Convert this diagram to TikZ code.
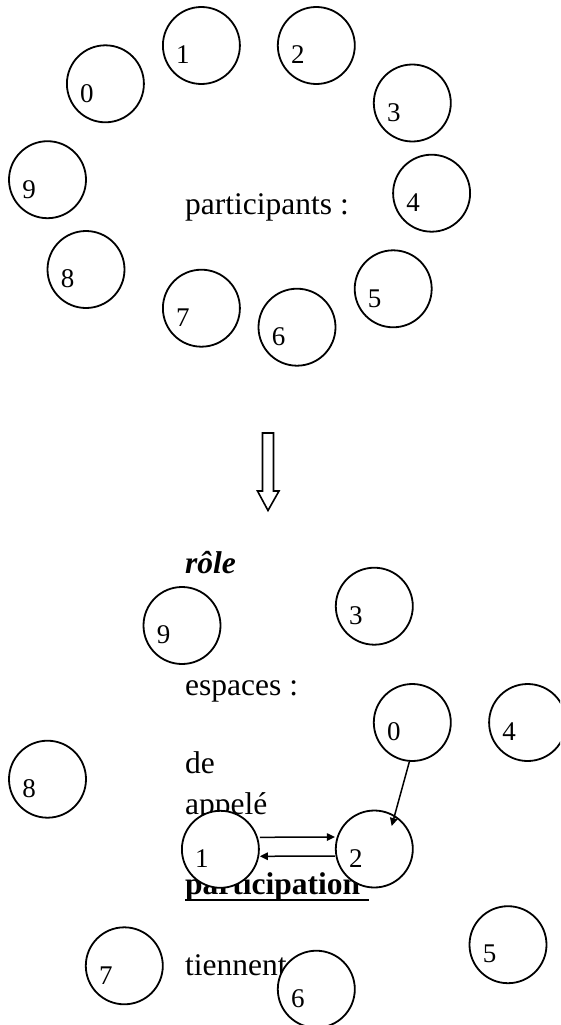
\documentclass[tikz,border=0pt]{standalone}
\usepackage{fontspec}
\setmainfont{Liberation Serif}
\usetikzlibrary{arrows.meta}
\newcommand{\txtsize}{\fontsize{31.5}{40}\selectfont}
\newcommand{\numsize}{\fontsize{27}{32}\selectfont}
\tikzset{
  num/.style={font=\numsize, inner sep=0pt},
  circ/.style={circle, draw, fill=white, line width=1.8pt, minimum size=77pt, inner sep=0pt,
    label={[num,xshift=-18.5pt,yshift=-9.5pt]center:#1}},
  txt/.style={font=\txtsize, inner sep=0pt, anchor=base west},
  arr/.style={line width=1.5pt, -{Triangle[length=8pt,width=7.5pt]}},
  blockarrow/.style={line width=1.6pt, fill=white, line join=miter}
}
\begin{document}
\begin{tikzpicture}[x=1pt,y=-1pt]
\useasboundingbox (0,0) rectangle (560,1025);
\begin{scope}
\clip (0,0) rectangle (560,1025);
% ---------- top part ----------
\node[txt] (ptxt) at (185,214) {participants :};
\node[circ=0] (t0) at (105.4,83.8) {};
\node[circ=1] (t1) at (201.4,45.5) {};
\node[circ=2] (t2) at (316.3,45.5) {};
\node[circ=3] (t3) at (412.3,103) {};
\node[circ=4] (t4) at (431.6,193.2) {};
\node[circ=5] (t5) at (393.2,288.8) {};
\node[circ=6] (t6) at (297,327.2) {};
\node[circ=7] (t7) at (201.4,308.2) {};
\node[circ=8] (t8) at (86,269.5) {};
\node[circ=9] (t9) at (47.5,179.7) {};
% ---------- block arrow ----------
\draw[blockarrow] (262.5,433) -- (273.5,433) -- (273.5,491) -- (279,491)
  -- (268,510.5) -- (257.5,491) -- (262.5,491) -- cycle;
% ---------- bottom part ----------
\node[txt] (role) at (185,573) {\textbf{\textit{rôle}}};
\node[txt] (esp) at (185,695) {espaces :};
\node[txt] (de) at (185,773) {de};
\node[txt] (app) at (185,814) {appelé};
\node[txt] (part) at (185,894) {\textbf{participation}};
\draw[line width=2.2pt] ([yshift=-6pt]part.base west) -- ([xshift=9pt,yshift=-6pt]part.base east);
\node[txt] (tien) at (185,975) {tiennent};
\node[circ=9] (b9) at (182,625.5) {};
\node[circ=3] (b3) at (374.3,606.2) {};
\node[circ=0] (b0) at (412.3,722.5) {};
\node[circ=4] (b4) at (527.6,722.5) {};
\node[circ=8] (b8) at (47.5,779.2) {};
\node[circ=1] (b1) at (220.4,849.3) {};
\node[circ=2] (b2) at (374.3,849) {};
\node[circ=5] (b5) at (508,944.7) {};
\node[circ=7] (b7) at (124.3,965.8) {};
\node[circ=6] (b6) at (316.3,989.2) {};
\coordinate (t02) at (391.7,826);
\draw[arr] ([yshift=12pt]b1.east) -- ([yshift=12pt]b2.west);
\draw[arr] ([yshift=-7pt]b2.west) -- ([yshift=-7pt]b1.east);
\draw[arr] ([xshift=-3pt]b0.south) -- (t02);
\end{scope}
\end{tikzpicture}
\end{document}
